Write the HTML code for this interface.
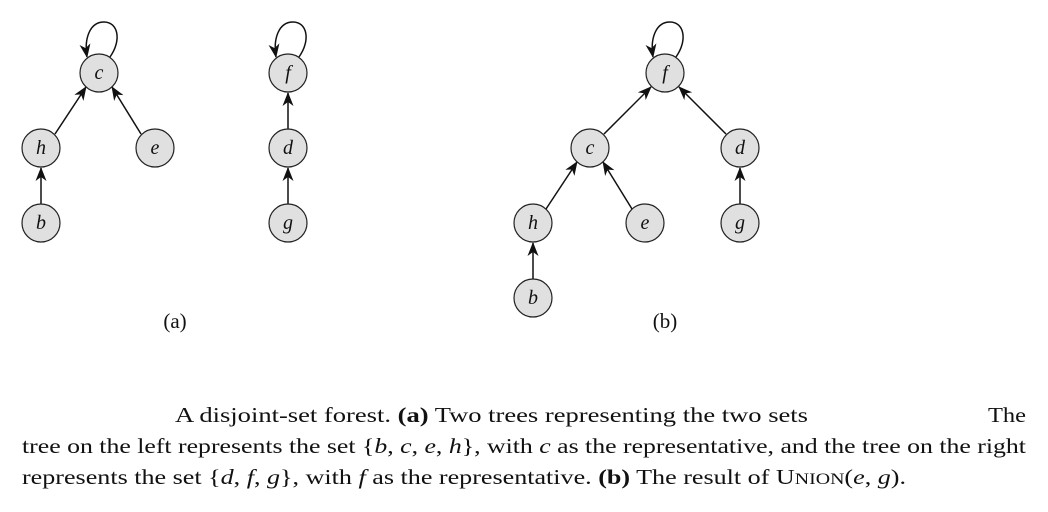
<!DOCTYPE html>
<html><head><meta charset="utf-8"><style>
html,body{margin:0;padding:0;background:#fff;}
svg{display:block;}
text{font-family:"Liberation Serif","Times New Roman",Times,serif;fill:#111;}
.n{font-style:italic;font-size:20px;text-anchor:middle;}
.cap{font-size:21px;}
</style></head><body>
<svg width="1048" height="512" viewBox="0 0 1048 512" xmlns="http://www.w3.org/2000/svg" font-family="Liberation Serif, Times New Roman, serif">
<defs>
<marker id="ar" viewBox="0 0 14 11" refX="13" refY="5.5" markerWidth="14" markerHeight="11" markerUnits="userSpaceOnUse" orient="auto">
<path d="M0,0 L14,5.5 L0,11 L4,5.5 Z" fill="#111"/></marker>
</defs>
<g stroke="#111" stroke-width="1.5" fill="none" marker-end="url(#ar)">
<line x1="55" y1="134" x2="86" y2="87"/>
<line x1="141" y1="134" x2="112" y2="87"/>
<line x1="41" y1="204" x2="41" y2="168"/>
<line x1="288" y1="129" x2="288" y2="93"/>
<line x1="288" y1="204" x2="288" y2="168"/>
<line x1="604" y1="134" x2="651" y2="87"/>
<line x1="726" y1="134" x2="679" y2="87"/>
<line x1="546" y1="209" x2="577" y2="162"/>
<line x1="632" y1="209" x2="603" y2="162"/>
<line x1="533" y1="279" x2="533" y2="243"/>
<line x1="740" y1="204" x2="740" y2="168"/>
<path d="M110,57 C122,40 118,22 104,22 C90,22 84,38 87,57"/>
<path d="M299,57 C311,40 307,22 293,22 C279,22 273,38 276,57"/>
<path d="M676,57 C688,40 684,22 670,22 C656,22 650,38 653,57"/>
</g>
<g fill="#e0e0e0" stroke="#222" stroke-width="1.2">
<circle cx="99" cy="73" r="19"/><circle cx="41" cy="148" r="19"/><circle cx="155" cy="148" r="19"/><circle cx="41" cy="223" r="19"/>
<circle cx="288" cy="73" r="19"/><circle cx="288" cy="148" r="19"/><circle cx="288" cy="223" r="19"/>
<circle cx="665" cy="73" r="19"/><circle cx="590" cy="148" r="19"/><circle cx="740" cy="148" r="19"/>
<circle cx="533" cy="223" r="19"/><circle cx="645" cy="223" r="19"/><circle cx="740" cy="223" r="19"/><circle cx="533" cy="298" r="19"/>
</g>
<g class="n">
<text x="99" y="79">c</text><text x="41" y="154">h</text><text x="155" y="154">e</text><text x="41" y="229">b</text>
<text x="288" y="79">f</text><text x="288" y="154">d</text><text x="288" y="229">g</text>
<text x="665" y="79">f</text><text x="590" y="154">c</text><text x="740" y="154">d</text>
<text x="533" y="229">h</text><text x="645" y="229">e</text><text x="740" y="229">g</text><text x="533" y="304">b</text>
</g>
<text x="175" y="328" font-size="21" text-anchor="middle">(a)</text>
<text x="665" y="328" font-size="21" text-anchor="middle">(b)</text>
<text class="cap" x="175" y="422" textLength="633" lengthAdjust="spacingAndGlyphs">A disjoint-set forest.  <tspan font-weight="bold">(a)</tspan> Two trees representing the two sets</text>
<text class="cap" x="988" y="422" textLength="38" lengthAdjust="spacingAndGlyphs">The</text>
<text class="cap" x="22" y="453" textLength="1004" lengthAdjust="spacingAndGlyphs">tree on the left represents the set {<tspan font-style="italic">b</tspan>, <tspan font-style="italic">c</tspan>, <tspan font-style="italic">e</tspan>, <tspan font-style="italic">h</tspan>}, with <tspan font-style="italic">c</tspan> as the representative, and the tree on the right</text>
<text class="cap" x="22" y="484" textLength="884" lengthAdjust="spacingAndGlyphs">represents the set {<tspan font-style="italic">d</tspan>,  <tspan font-style="italic">f</tspan>, <tspan font-style="italic">g</tspan>}, with  <tspan font-style="italic">f</tspan>  as the representative. <tspan font-weight="bold">(b)</tspan> The result of U<tspan font-size="16">NION</tspan>(<tspan font-style="italic">e</tspan>, <tspan font-style="italic">g</tspan>).</text>
</svg>
</body></html>
